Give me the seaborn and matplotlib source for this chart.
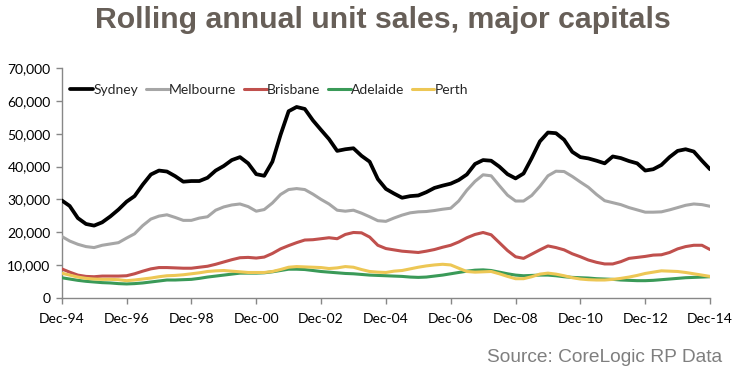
import matplotlib
matplotlib.use("Agg")
import matplotlib.pyplot as plt
import matplotlib.dates as mdates
import seaborn as sns
import pandas as pd
import numpy as np

# Quarterly readings, Dec-94 .. Dec-14 (thousands of units)
sydney = [29.7, 28.0, 24.3, 22.5, 22.0, 23.0, 24.8, 26.9, 29.3, 31.0, 34.5, 37.6,
          38.8, 38.5, 37.1, 35.4, 35.6, 35.6, 36.6, 38.8, 40.2, 42.0, 42.9, 41.0,
          37.7, 37.2, 41.5, 49.7, 56.9, 58.2, 57.6, 54.1, 51.2, 48.4, 44.8, 45.3,
          45.6, 43.3, 41.5, 36.2, 33.2, 31.8, 30.5, 31.0, 31.2, 32.2, 33.5, 34.2,
          34.8, 35.9, 37.6, 40.8, 42.0, 41.8, 40.0, 37.7, 36.4, 37.9, 42.6, 47.7,
          50.4, 50.2, 48.2, 44.5, 42.9, 42.5, 41.8, 41.0, 43.1, 42.6, 41.7, 41.0,
          38.8, 39.2, 40.5, 42.9, 44.8, 45.3, 44.6, 41.8, 39.2]
melbourne = [18.7, 17.3, 16.3, 15.6, 15.3, 16.0, 16.4, 16.8, 18.2, 19.5, 22.0, 24.0,
             24.9, 25.3, 24.5, 23.6, 23.6, 24.3, 24.7, 26.7, 27.7, 28.3, 28.6, 27.8,
             26.4, 26.9, 28.9, 31.5, 33.0, 33.3, 33.0, 31.6, 30.0, 28.6, 26.7, 26.4,
             26.7, 25.8, 24.7, 23.5, 23.3, 24.3, 25.2, 25.9, 26.2, 26.3, 26.6, 27.0,
             27.3, 29.5, 32.8, 35.5, 37.5, 37.2, 34.2, 31.3, 29.5, 29.5, 31.2, 34.0,
             37.2, 38.6, 38.5, 37.0, 35.3, 33.7, 31.5, 29.6, 29.0, 28.4, 27.5, 26.8,
             26.1, 26.1, 26.2, 26.8, 27.5, 28.2, 28.6, 28.4, 27.9]
brisbane = [8.8, 7.8, 6.9, 6.5, 6.4, 6.6, 6.6, 6.6, 6.7, 7.3, 8.1, 8.8,
            9.2, 9.2, 9.1, 9.0, 9.0, 9.3, 9.6, 10.2, 10.9, 11.6, 12.2, 12.3,
            12.1, 12.4, 13.5, 14.9, 15.9, 16.8, 17.6, 17.7, 18.0, 18.3, 18.0, 19.3,
            19.9, 19.8, 18.5, 16.0, 15.0, 14.6, 14.2, 14.0, 13.8, 14.2, 14.7, 15.4,
            16.0, 17.0, 18.3, 19.3, 19.9, 19.2, 16.8, 14.4, 12.5, 12.0, 13.3, 14.6,
            15.8, 15.3, 14.6, 13.4, 12.5, 11.5, 10.8, 10.3, 10.3, 11.0, 12.0, 12.3,
            12.6, 13.0, 13.1, 13.8, 14.9, 15.6, 16.0, 16.0, 14.7]
adelaide = [6.1, 5.7, 5.3, 5.0, 4.8, 4.6, 4.5, 4.3, 4.2, 4.3, 4.5, 4.8,
            5.1, 5.4, 5.4, 5.5, 5.6, 5.9, 6.3, 6.6, 6.9, 7.2, 7.5, 7.5,
            7.5, 7.6, 7.9, 8.3, 8.7, 8.7, 8.6, 8.3, 8.0, 7.8, 7.6, 7.4,
            7.3, 7.1, 6.9, 6.8, 6.7, 6.6, 6.5, 6.3, 6.2, 6.3, 6.6, 6.9,
            7.3, 7.7, 8.1, 8.4, 8.5, 8.3, 7.8, 7.3, 6.9, 6.7, 6.8, 6.9,
            6.9, 6.7, 6.4, 6.2, 6.1, 6.0, 5.8, 5.7, 5.6, 5.4, 5.3, 5.2,
            5.2, 5.3, 5.5, 5.7, 5.9, 6.1, 6.2, 6.3, 6.4]
perth = [7.5, 6.9, 6.3, 5.9, 5.7, 5.6, 5.6, 5.5, 5.2, 5.4, 5.7, 6.0,
         6.4, 6.7, 6.8, 7.0, 7.3, 7.6, 8.0, 8.2, 8.3, 8.1, 7.9, 7.7,
         7.7, 7.7, 8.0, 8.6, 9.3, 9.5, 9.4, 9.3, 9.2, 8.9, 9.1, 9.5,
         9.3, 8.6, 8.0, 7.8, 7.7, 8.1, 8.3, 8.8, 9.3, 9.7, 10.0, 10.2,
         10.0, 9.0, 8.0, 7.8, 7.9, 8.0, 7.3, 6.5, 5.8, 5.8, 6.4, 7.2,
         7.5, 7.2, 6.7, 6.1, 5.7, 5.5, 5.4, 5.4, 5.6, 5.9, 6.3, 6.8,
         7.4, 7.8, 8.2, 8.1, 8.0, 7.7, 7.3, 6.9, 6.5]

cities = ["Sydney", "Melbourne", "Brisbane", "Adelaide", "Perth"]
series = [sydney, melbourne, brisbane, adelaide, perth]
colors = ["#000000", "#A6A6A6", "#C0504D", "#3A9A58", "#EDC755"]
widths = [2.7, 2.2, 2.2, 2.2, 2.2]

title = "Rolling annual unit sales, major capitals"
source = "Source: CoreLogic RP Data"

dates = pd.date_range("1994-12-01", periods=len(sydney), freq="3MS")
tick_dates = pd.date_range("1994-12-01", "2014-12-01", freq="24MS")
yticks = np.arange(0, 70001, 10000)

sns.set_theme(style="white")
plt.rcParams["font.family"] = ["Lato", "DejaVu Sans"]

fig = plt.figure(figsize=(7.37, 3.67), dpi=100)
ax = fig.add_axes([0.0837, 0.1888, 0.8797, 0.6251])

for name, vals, c, lw in zip(cities, series, colors, widths):
    df = pd.DataFrame({"date": dates, "units": np.array(vals) * 1000})
    sns.lineplot(data=df, x="date", y="units", ax=ax, color=c, linewidth=lw,
                 label=name, zorder=5 if name == "Sydney" else 3)

ax.set_xlim(dates[0], dates[-1])
ax.set_ylim(0, 70000)
ax.set_yticks(yticks)
ax.set_yticklabels([f"{v:,.0f}" for v in yticks])
ax.set_xticks(tick_dates)
ax.xaxis.set_major_formatter(mdates.DateFormatter("%b-%y"))
ax.set_xlabel("")
ax.set_ylabel("")

for s in ["top", "right"]:
    ax.spines[s].set_visible(False)
for s in ["left", "bottom"]:
    ax.spines[s].set_color("#878787")
    ax.spines[s].set_linewidth(1.0)
ax.tick_params(axis="both", which="major", direction="out", length=4, width=1,
               color="#878787", labelsize=10, labelcolor="#000000", pad=4,
               left=True, bottom=True)
ax.tick_params(axis="x", pad=7)

leg = ax.legend(loc="upper left", bbox_to_anchor=(0.005, 0.955), ncol=5,
                frameon=False, fontsize=10, handlelength=1.65, handletextpad=0.0,
                columnspacing=0.55, borderaxespad=0.0)

fig.text(0.519, 0.925, title, ha="center", va="baseline", fontsize=21.8,
         fontweight="bold", color="#675F58", family=["Liberation Sans", "DejaVu Sans"])
fig.text(0.98, 0.014, source, ha="right", va="baseline", fontsize=13.8,
         color="#7F7F7F", family=["Liberation Sans", "DejaVu Sans"])

fig.savefig("out.png", dpi=100)
